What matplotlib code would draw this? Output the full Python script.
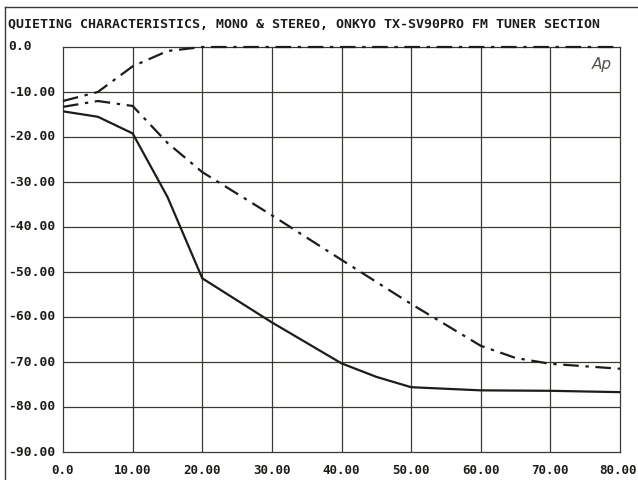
import matplotlib
matplotlib.use("Agg")
import matplotlib.pyplot as plt
from matplotlib.lines import Line2D

# Data
x_upper = [0, 5, 10, 15, 20, 30, 40, 50, 60, 70, 80]
y_upper = [-12.0, -10.0, -4.3, -0.9, 0.0, 0.0, 0.0, 0.0, 0.0, 0.0, 0.0]

x_mid = [0, 5, 10, 15, 20, 30, 40, 50, 60, 65, 70, 80]
y_mid = [-13.3, -12.0, -13.1, -21.3, -27.8, -37.4, -47.3, -57.1, -66.4, -69.1, -70.4, -71.5]

x_low = [0, 5, 10, 15, 20, 30, 40, 45, 50, 60, 70, 80]
y_low = [-14.3, -15.5, -19.2, -33.3, -51.4, -61.2, -70.3, -73.3, -75.6, -76.3, -76.4, -76.7]

x_ticks = [0, 10, 20, 30, 40, 50, 60, 70, 80]
x_labels = ["0.0", "10.00", "20.00", "30.00", "40.00", "50.00", "60.00", "70.00", "80.00"]
y_ticks = [0, -10, -20, -30, -40, -50, -60, -70, -80, -90]
y_labels = ["0.0", "-10.00", "-20.00", "-30.00", "-40.00", "-50.00", "-60.00", "-70.00", "-80.00", "-90.00"]

title = "QUIETING CHARACTERISTICS, MONO & STEREO, ONKYO TX-SV90PRO FM TUNER SECTION"

W, H = 638, 480
fig = plt.figure(figsize=(W / 100, H / 100), dpi=100)
fig.patch.set_facecolor("white")

L, R, T, B = 63, 620, 47, 452
ax = fig.add_axes([L / W, 1 - B / H, (R - L) / W, (B - T) / H])
ax.set_xlim(0, 80)
ax.set_ylim(-90, 0)

ink = "#1c1c18"
grid = "#3a3a34"
for v in x_ticks[1:-1]:
    ax.axvline(v, color=grid, lw=0.9, zorder=1)
for v in y_ticks[1:-1]:
    ax.axhline(v, color=grid, lw=0.9, zorder=1)
for s in ax.spines.values():
    s.set_color(grid)
    s.set_linewidth(0.9)

ax.plot(x_upper, y_upper, color=ink, lw=1.6, dashes=(7, 3, 1.5, 3), zorder=3, clip_on=False)
ax.plot(x_mid, y_mid, color=ink, lw=1.6, dashes=(7, 3, 1.5, 3), zorder=3)
ax.plot(x_low, y_low, color=ink, lw=1.6, zorder=3)

ax.set_xticks([])
ax.set_yticks([])

font = dict(family="DejaVu Sans Mono", weight="bold", color=ink)
# y tick labels, left aligned at the figure edge
for v, lab in zip(y_ticks, y_labels):
    yp = ax.transData.transform((0, v))[1]
    fig.text(8 / W, yp / H, lab, ha="left", va="center", fontsize=9.4, **font)
# x tick labels
for i, (v, lab) in enumerate(zip(x_ticks, x_labels)):
    xp = ax.transData.transform((v, 0))[0]
    if i == len(x_ticks) - 1:
        fig.text(637 / W, 1 - 470 / H, lab, ha="right", va="center", fontsize=9.0, **font)
    else:
        fig.text(xp / W, 1 - 470 / H, lab, ha="center", va="center", fontsize=9.0, **font)

fig.text(8 / W, 1 - 25 / H, title, ha="left", va="center", fontsize=9.5, **font)
ax.text(0.985, 0.975, "Ap", transform=ax.transAxes, ha="right", va="top",
        fontsize=11, style="italic", color="#55554f", family="DejaVu Sans", weight="light")

# outer frame
fig.add_artist(Line2D([5 / W, 5 / W], [0, 1 - 7 / H], transform=fig.transFigure, color=grid, lw=1.0))
fig.add_artist(Line2D([5 / W, 1], [1 - 7 / H, 1 - 7 / H], transform=fig.transFigure, color=grid, lw=1.0))

fig.savefig("out.png", dpi=100, facecolor="white")
